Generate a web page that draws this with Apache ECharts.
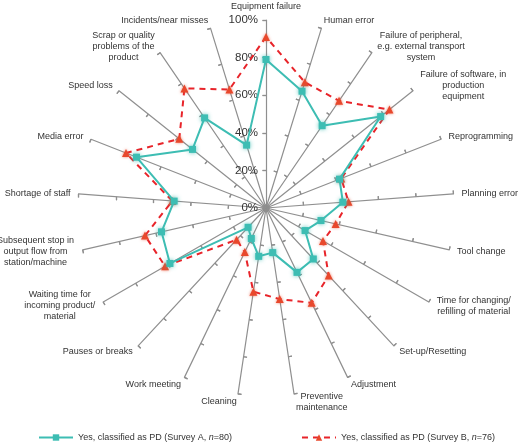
<!DOCTYPE html>
<html>
<head>
<meta charset="utf-8">
<script src="https://cdn.jsdelivr.net/npm/echarts@6/dist/echarts.min.js"></script>
<style>
html,body{margin:0;padding:0;background:#fff;}
#chart{width:520px;height:445px;}
</style>
</head>
<body>
<div id="chart"></div>
<script>
// Categories, clockwise from the top
const categories = [
  'Equipment failure',
  'Human error',
  'Failure of peripheral,\ne.g. external transport\nsystem',
  'Failure of software, in\nproduction\nequipment',
  'Reprogramming',
  'Planning error',
  'Tool change',
  'Time for changing/\nrefilling of material',
  'Set-up/Resetting',
  'Adjustment',
  'Preventive\nmaintenance',
  'Cleaning',
  'Work meeting',
  'Pauses or breaks',
  'Waiting time for\nincoming product/\nmaterial',
  'Subsequent stop in\noutput flow from\nstation/machine',
  'Shortage of staff',
  'Media error',
  'Speed loss',
  'Scrap or quality\nproblems of the\nproduct',
  'Incidents/near misses'
];
// Percent values
const surveyA = [79, 65, 53, 78, 42, 41, 30, 24, 37, 38, 24, 26, 18, 14, 59, 57, 49, 74, 50, 58, 35];
const surveyB = [91, 70, 69, 84, 43, 44, 38, 35, 49, 56, 49, 45, 26, 23, 62, 66, 50, 80, 59, 77, 66];
const radialTicks = [0, 20, 40, 60, 80, 100];
const nameA = 'Yes, classified as PD (Survey A, n=80)';
const nameB = 'Yes, classified as PD (Survey B, n=76)';

// ECharts radar runs counter-clockwise: reorder so the picture runs clockwise
const order = [0];
for (let i = categories.length - 1; i >= 1; i--) order.push(i);
const cats = order.map(i => categories[i]);
const valsA = order.map(i => surveyA[i]);
const valsB = order.map(i => surveyB[i]);

const FONT = '"Liberation Sans", Arial, sans-serif';
const TEAL = '#3dbdb3';
const RED = '#e8242a';
const RED_MK = '#e8482c';
const AXIS = '#8f8f8f';

// centred multi-line labels via rich styles
const ctx = document.createElement('canvas').getContext('2d');
ctx.font = '9px ' + FONT;
const rich = {};
const keyOf = {};
cats.forEach((c, k) => {
  if (c.indexOf('\n') >= 0) {
    const w = Math.ceil(Math.max(...c.split('\n').map(s => ctx.measureText(s).width))) + 1;
    rich['c' + k] = { width: w, align: 'center', fontSize: 9, lineHeight: 11, color: '#333', fontFamily: FONT };
    keyOf[c] = 'c' + k;
  }
});

const radarBase = {
  center: [266, 208],
  radius: 188,
  startAngle: 90,
  splitNumber: 5,
  shape: 'polygon',
  splitLine: { show: false },
  splitArea: { show: false },
  indicator: cats.map(c => ({ name: c, max: 100, min: 0 }))
};

const chart = echarts.init(document.getElementById('chart'));
chart.setOption({
  animation: false,
  backgroundColor: '#fff',
  textStyle: { fontFamily: FONT },
  grid: { left: 266, top: 20, height: 188, width: 1 },
  xAxis: { type: 'value', show: false, min: 0, max: 1 },
  yAxis: {
    type: 'value', min: radialTicks[0], max: radialTicks[radialTicks.length - 1], interval: 20,
    axisLine: { show: false }, axisTick: { show: false }, splitLine: { show: false },
    axisLabel: { formatter: '{value}%', fontSize: 11.5, color: '#333', margin: 8, fontFamily: FONT }
  },
  radar: [
    Object.assign({}, radarBase, {
      nameGap: 8,
      axisName: {
        color: '#333', fontSize: 9, lineHeight: 11, fontFamily: FONT,
        formatter: function (v) {
          const k = keyOf[v];
          if (!k) return v;
          return v.split('\n').map(s => '{' + k + '|' + s + '}').join('\n');
        },
        rich: rich
      },
      axisLine: { lineStyle: { color: AXIS, width: 1.2 } },
      axisTick: { show: true, length: 3.5, lineStyle: { color: AXIS, width: 1.2 } }
    }),
    Object.assign({}, radarBase, {
      axisName: { show: false },
      axisLine: { show: false },
      axisTick: { show: true, inside: true, length: 3.5, lineStyle: { color: AXIS, width: 1.2 } }
    })
  ],
  legend: {
    left: 33, top: 428,
    itemWidth: 34, itemHeight: 8, itemGap: 69,
    data: [nameA, nameB],
    formatter: n => n.replace('n=', '{i|n}='),
    textStyle: { fontSize: 9, color: '#333', fontFamily: FONT, rich: { i: { fontStyle: 'italic', fontSize: 9, color: '#333', fontFamily: FONT } } }
  },
  series: [
    { type: 'line', name: nameA, data: [], symbol: 'rect', symbolSize: 6, itemStyle: { color: TEAL }, lineStyle: { color: TEAL, width: 2 } },
    { type: 'line', name: nameB, data: [], symbol: 'triangle', symbolSize: 7, itemStyle: { color: RED_MK }, lineStyle: { color: RED, width: 2, type: [6, 5] } },
    {
      type: 'radar', radarIndex: 0, name: nameA, z: 3,
      symbol: 'rect', symbolSize: 7,
      itemStyle: { color: TEAL, shadowBlur: 4, shadowColor: 'rgba(61,189,179,0.8)' },
      lineStyle: { color: TEAL, width: 2 },
      data: [{ value: valsA, name: nameA }]
    },
    {
      type: 'radar', radarIndex: 0, name: nameB, z: 2,
      symbol: 'triangle', symbolSize: 8,
      itemStyle: { color: RED_MK, shadowBlur: 3, shadowColor: 'rgba(232,72,44,0.7)' },
      lineStyle: { color: RED, width: 2, type: [6, 5] },
      data: [{ value: valsB, name: nameB }]
    }
  ]
});
</script>
</body>
</html>
